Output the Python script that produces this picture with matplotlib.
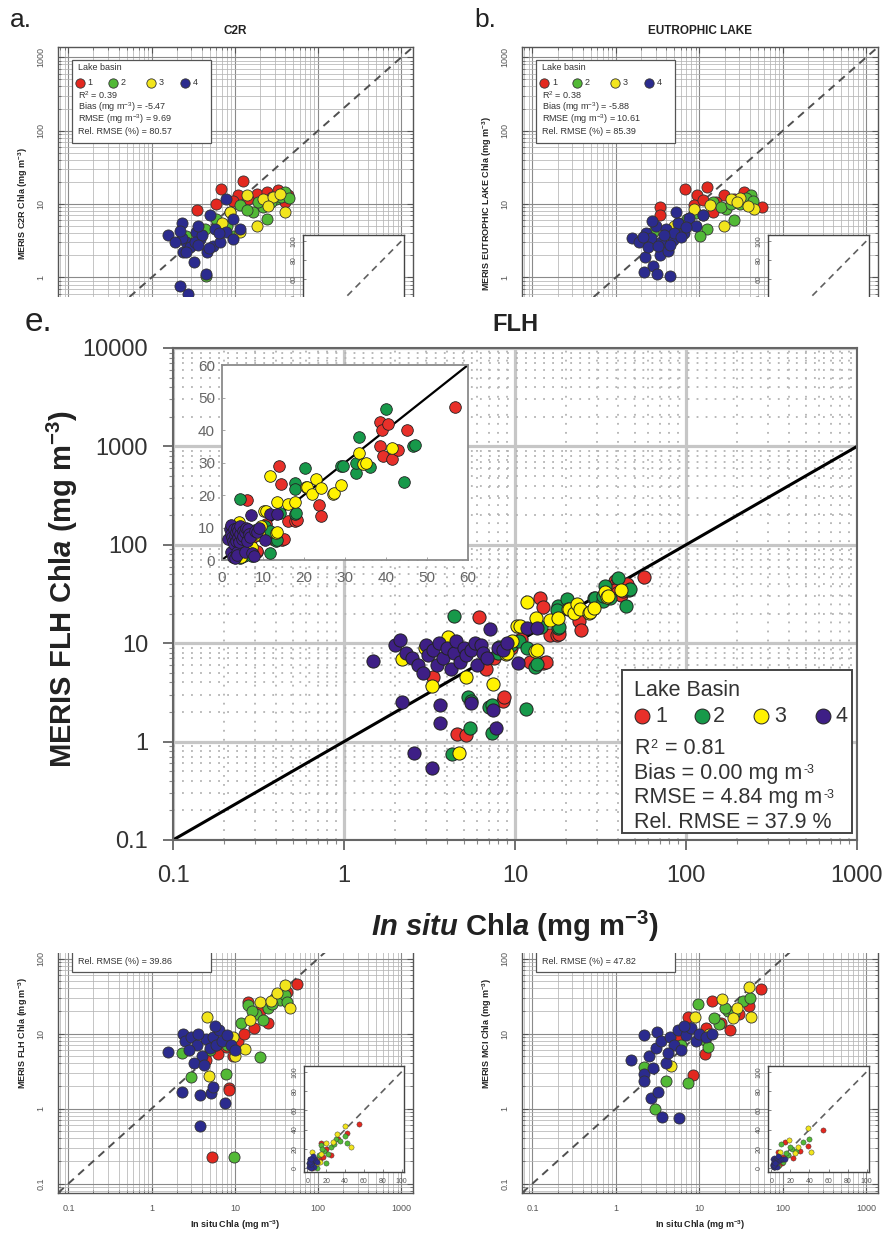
import matplotlib
matplotlib.use('Agg')
import matplotlib.pyplot as plt
from matplotlib.patches import Rectangle
from matplotlib.ticker import LogLocator, FixedLocator, NullFormatter, FixedFormatter
import numpy as np

plt.rcParams['font.family'] = ['Liberation Sans', 'DejaVu Sans']
plt.rcParams['mathtext.fontset'] = 'custom'
plt.rcParams['mathtext.rm'] = 'Liberation Sans:bold'
plt.rcParams['mathtext.it'] = 'Liberation Sans:italic:bold'
plt.rcParams['mathtext.sf'] = 'Liberation Sans'
plt.rcParams['mathtext.bf'] = 'Liberation Sans:bold'

# ---------------- data ----------------
BASINS = ['1', '2', '3', '4']
LOG_TICKS = [0.1, 1, 10, 100, 1000]
LOG_TICK_LABELS = ['0.1', '1', '10', '100', '1000']
E_YTICKS = [0.1, 1, 10, 100, 1000, 10000]
E_YTICK_LABELS = ['0.1', '1', '10', '100', '1000', '10000']
INSET_E_TICKS = [0, 10, 20, 30, 40, 50, 60]
INSET_SMALL_TICKS = [0, 20, 40, 60, 80, 100]

# panel e : FLH (in situ x, MERIS y), per lake basin
E_X1 = [3.3, 4.6, 5.2, 6.2, 6.8, 7.5, 8.5, 8.6, 9.5, 10.8, 12.2, 14.0, 14.5, 14.6, 15.1, 16.0, 17.7, 18.2, 23.6, 24.2, 38.5, 39.0, 40.5, 38.5, 39.3, 41.5, 43.0, 45.0, 56.8]
E_Y1 = [4.5, 1.2, 1.17, 18.5, 5.5, 7.0, 2.6, 2.84, 9.0, 11.0, 6.4, 28.8, 23.5, 6.3, 6.5, 12.0, 12.1, 12.3, 16.8, 13.5, 42.5, 40.0, 42.0, 35.0, 32.0, 31.0, 34.0, 40.0, 47.0]
E_X2 = [4.4, 4.3, 5.3, 5.5, 5.46, 7.0, 7.3, 7.3, 8.0, 9.5, 10.5, 11.6, 11.8, 8.1, 13.1, 13.4, 14.1, 17.8, 17.9, 17.7, 18.0, 20.2, 29.0, 29.5, 32.7, 32.7, 33.5, 36.0, 40.0, 44.5, 46.5, 47.0]
E_Y2 = [18.8, 0.75, 2.84, 2.6, 1.37, 2.25, 2.35, 1.22, 8.0, 9.5, 10.5, 2.15, 8.9, 9.1, 5.7, 6.2, 14.5, 23.7, 14.3, 21.7, 14.5, 28.3, 28.8, 29.0, 26.8, 30.0, 38.0, 28.6, 46.5, 24.0, 35.0, 35.5]
E_X3 = [2.18, 2.98, 3.27, 4.05, 4.7, 5.2, 7.4, 9.6, 8.9, 9.0, 10.3, 10.7, 11.7, 13.1, 13.3, 13.4, 16.0, 17.9, 20.5, 20.7, 22.0, 23.0, 24.1, 27.0, 27.3, 29.0, 33.4, 34.4, 35.0, 41.5]
E_Y3 = [6.9, 8.9, 3.67, 11.6, 0.77, 4.5, 3.85, 10.5, 7.8, 7.9, 15.0, 15.0, 26.0, 8.4, 18.0, 8.6, 17.2, 18.0, 22.4, 22.5, 20.4, 25.0, 22.2, 20.4, 20.6, 23.0, 33.0, 29.5, 30.0, 34.5]
E_X4 = [1.48, 2.0, 2.13, 2.18, 2.3, 2.5, 2.57, 2.7, 2.9, 3.0, 3.1, 3.27, 3.3, 3.5, 3.6, 3.64, 3.64, 3.8, 4.0, 4.2, 4.4, 4.5, 4.8, 5.0, 5.2, 5.5, 5.5, 5.8, 6.0, 6.3, 6.5, 6.9, 7.1, 7.4, 7.7, 8.0, 8.5, 9.0, 10.4, 11.8, 13.4]
E_Y4 = [6.6, 9.6, 10.8, 2.5, 8.0, 7.0, 0.77, 6.0, 5.0, 9.5, 7.5, 0.54, 8.5, 6.0, 10.0, 2.36, 1.55, 7.0, 9.0, 5.5, 8.0, 10.5, 6.5, 9.0, 7.5, 2.47, 8.5, 10.0, 6.0, 9.5, 8.0, 7.0, 13.8, 2.1, 1.37, 9.0, 8.5, 10.0, 6.3, 14.3, 14.3]

# panel a : C2R
A_X1 = [12.6, 6.9, 3.47, 6.0, 8.7, 18.2, 24.0, 33.0, 40.0, 43.0, 11.0, 14.5, 28.0, 9.5]
A_Y1 = [20.4, 16.2, 8.2, 10.1, 7.8, 13.8, 14.6, 15.4, 10.6, 13.1, 13.1, 11.8, 12.5, 11.0]
A_X2 = [40.0, 22.0, 24.0, 16.7, 11.5, 6.0, 4.4, 31.0, 9.5, 4.5, 2.6, 36.0, 27.0, 19.0, 14.0, 8.0, 45.0]
A_Y2 = [14.6, 9.1, 6.3, 7.8, 9.6, 6.3, 4.6, 11.8, 3.7, 1.05, 3.7, 12.5, 10.5, 10.5, 8.3, 5.0, 12.0]
A_X3 = [22.0, 40.0, 18.2, 8.7, 11.5, 29.0, 13.8, 35.0, 25.0, 7.0]
A_Y3 = [11.8, 7.8, 5.1, 7.8, 4.1, 12.4, 13.1, 13.5, 9.5, 5.5]
A_X4 = [1.58, 2.3, 2.4, 3.2, 4.5, 2.2, 2.75, 3.8, 5.5, 7.9, 11.5, 6.6, 5.0, 9.5, 7.9, 2.6, 3.45, 4.6, 9.5, 2.3, 2.9, 3.3, 4.0, 5.8, 6.5, 2.2, 3.6, 4.9, 1.9, 2.6, 3.6]
A_Y4 = [3.8, 5.55, 2.2, 1.6, 1.1, 0.77, 0.59, 3.35, 2.7, 4.1, 4.6, 3.0, 7.0, 6.3, 11.8, 3.0, 4.1, 2.2, 3.35, 3.5, 2.6, 3.0, 3.8, 4.6, 4.0, 4.3, 5.0, 2.5, 3.0, 2.2, 2.8]

# panel b : EUTROPHIC LAKE
B_X1 = [3.4, 3.4, 6.8, 12.3, 9.4, 19.5, 34.0, 57.0, 26.0, 8.6, 14.5, 40.0, 16.0, 11.0]
B_Y1 = [9.1, 7.0, 16.2, 17.1, 13.1, 13.1, 14.6, 9.1, 11.8, 9.6, 7.8, 12.0, 10.5, 11.5]
B_X2 = [41.0, 21.0, 26.0, 12.3, 7.1, 4.9, 14.5, 31.0, 2.8, 2.35, 10.2, 18.0, 36.0, 24.0, 9.0, 5.5, 44.0]
B_Y2 = [13.1, 8.6, 6.0, 4.6, 6.3, 4.6, 10.6, 10.1, 4.1, 3.35, 3.7, 9.0, 12.0, 10.0, 7.5, 5.5, 11.0]
B_X3 = [45.0, 19.5, 8.6, 31.0, 13.5, 23.6, 4.9, 38.0, 28.0, 11.0]
B_Y3 = [8.6, 5.1, 8.6, 12.1, 9.6, 11.8, 5.1, 9.5, 10.5, 7.0]
B_X4 = [1.56, 2.25, 2.8, 3.1, 2.2, 4.5, 3.4, 1.9, 2.3, 2.6, 3.0, 3.5, 4.0, 4.8, 5.5, 6.5, 7.5, 9.0, 11.2, 2.4, 3.2, 4.2, 5.0, 6.0, 2.7, 3.8, 5.2, 7.0, 2.1, 4.4]
B_Y4 = [3.4, 1.9, 1.45, 1.1, 1.17, 1.05, 2.0, 3.0, 4.0, 3.5, 5.0, 3.0, 4.5, 3.2, 5.5, 4.0, 6.5, 5.0, 7.0, 2.6, 2.7, 2.3, 4.0, 3.6, 5.8, 3.8, 7.8, 4.8, 3.6, 2.8]

# panel c : FLH (small)
C_X1 = [55.0, 14.5, 7.9, 6.3, 8.5, 8.6, 5.3, 11.0, 13.0, 20.0, 25.0, 33.0, 17.0, 4.5, 9.5, 42.0]
C_Y1 = [45.5, 26.5, 6.6, 5.4, 1.9, 1.75, 0.227, 8.0, 10.0, 20.0, 14.0, 30.0, 12.0, 4.5, 5.0, 36.0]
C_X2 = [14.5, 20.0, 7.9, 3.0, 9.8, 30.0, 35.0, 40.0, 25.0, 18.0, 12.0, 8.0, 5.0, 2.3, 42.0, 28.0, 22.0, 16.0]
C_Y2 = [24.0, 4.9, 2.9, 2.65, 0.227, 30.0, 28.0, 33.0, 22.0, 18.0, 14.0, 7.0, 6.0, 5.5, 26.0, 25.0, 15.0, 20.0]
C_X3 = [40.0, 46.0, 20.0, 4.57, 9.5, 13.2, 4.9, 27.0, 32.0, 15.0, 10.0, 6.0]
C_Y3 = [44.0, 22.0, 26.5, 16.7, 9.0, 6.3, 2.7, 27.0, 35.0, 15.0, 5.0, 7.0]
C_X4 = [1.58, 2.35, 2.3, 3.8, 5.2, 5.5, 7.6, 3.8, 2.5, 3.0, 3.5, 4.0, 4.5, 5.0, 5.5, 6.0, 6.5, 7.0, 8.0, 9.0, 3.2, 4.2, 2.8, 5.8, 10.0, 3.6]
C_Y4 = [5.6, 10.0, 1.67, 1.5, 1.6, 1.95, 1.19, 0.58, 8.0, 9.0, 7.0, 5.0, 8.5, 6.5, 9.0, 7.0, 11.0, 8.0, 9.5, 7.0, 4.0, 3.8, 6.0, 12.5, 6.0, 10.0]

# panel d : MCI
D_X1 = [54.0, 14.0, 39.0, 23.0, 7.3, 5.6, 11.7, 8.4, 12.0, 30.0, 18.0]
D_Y1 = [39.8, 27.5, 23.0, 11.0, 16.7, 9.0, 5.4, 2.8, 12.0, 18.0, 14.0]
D_X2 = [9.7, 22.0, 33.0, 17.0, 11.7, 12.7, 7.3, 4.0, 2.9, 2.2, 40.0, 26.0, 15.0, 20.0, 6.0]
D_Y2 = [25.0, 20.0, 27.5, 13.5, 8.3, 6.6, 2.2, 2.3, 1.0, 3.6, 30.0, 18.0, 16.0, 22.0, 7.0]
D_X3 = [39.0, 18.5, 42.0, 4.6, 8.8, 28.0, 25.0, 13.0]
D_Y3 = [42.0, 29.0, 16.7, 3.65, 16.7, 22.0, 16.0, 10.0]
D_X4 = [1.5, 2.2, 2.2, 2.2, 2.6, 3.2, 3.6, 5.7, 3.1, 2.5, 3.0, 3.5, 4.0, 4.5, 5.0, 5.5, 6.0, 7.0, 8.0, 9.0, 10.0, 12.0, 14.0, 2.8, 4.2, 6.5]
D_Y4 = [4.5, 9.5, 2.9, 2.3, 1.4, 1.65, 0.77, 0.74, 10.5, 5.0, 6.5, 8.0, 4.0, 9.0, 7.0, 11.0, 6.0, 9.5, 12.0, 8.0, 10.0, 9.0, 10.0, 3.5, 5.5, 12.5]

A_STATS = ['R$^{\\mathsf{2}}$ = 0.39', 'Bias (mg m$^{\\mathsf{-3}}$) = -5.47',
           'RMSE (mg m$^{\\mathsf{-3}}$) = 9.69', 'Rel. RMSE (%) = 80.57']
B_STATS = ['R$^{\\mathsf{2}}$ = 0.38', 'Bias (mg m$^{\\mathsf{-3}}$) = -5.88',
           'RMSE (mg m$^{\\mathsf{-3}}$) = 10.61', 'Rel. RMSE (%) = 85.39']
C_STATS = ['Rel. RMSE (%) = 39.86']
D_STATS = ['Rel. RMSE (%) = 47.82']
E_STAT_MAIN = ['R', 'Bias = 0.00 mg m', 'RMSE = 4.84 mg m', 'Rel. RMSE = 37.9 %']
E_STAT_SUP = ['2', '-3', '-3', '']
E_STAT_TAIL = [' = 0.81', '', '', '']

SMALL_COLORS = ['#e3281f', '#52b936', '#f2e51c', '#2b2b8e']
E_COLORS = ['#e8302a', '#17994a', '#fff200', '#3e1f86']

# ---------------- figure ----------------
W, H = 885, 1239
COVER_TOP, COVER_BOTTOM = 297, 953
fig = plt.figure(figsize=(W / 100, H / 100), dpi=100)


def add_ax(l, t, r, b, **kw):
    return fig.add_axes([l / W, 1 - b / H, (r - l) / W, (b - t) / H], **kw)


def small_panel(box, ibox, xs, ys, title, ylabel, stats, upper):
    ax = add_ax(*box, zorder=0)
    ax.set_xscale('log')
    ax.set_yscale('log')
    lo, hi = 0.075, 1380
    ax.set_xlim(lo, hi)
    ax.set_ylim(lo, hi)
    ax.xaxis.set_major_locator(FixedLocator(LOG_TICKS))
    ax.xaxis.set_major_formatter(FixedFormatter(LOG_TICK_LABELS))
    ax.yaxis.set_major_locator(FixedLocator(LOG_TICKS))
    # labels that fall under panel e are not shown in the reference
    ylabs = LOG_TICK_LABELS if upper else LOG_TICK_LABELS[:-1] + ['']
    ax.yaxis.set_major_formatter(FixedFormatter(ylabs))
    for axis in (ax.xaxis, ax.yaxis):
        axis.set_minor_locator(LogLocator(base=10, subs=np.arange(2, 10), numticks=30))
        axis.set_minor_formatter(NullFormatter())
    ax.grid(True, which='major', color='#8a8a8a', lw=0.8)
    ax.grid(True, which='minor', color='#b5b5b5', lw=0.55)
    ax.set_axisbelow(True)
    ax.tick_params(which='both', direction='in', top=True, right=True, color='#555',
                   labelsize=6.5, labelcolor='#555')
    ax.tick_params(which='major', length=4, width=0.8)
    ax.tick_params(which='minor', length=2, width=0.5)
    ax.tick_params(axis='x', pad=8, labelbottom=not upper)
    ax.tick_params(axis='y', labelrotation=90, pad=9)
    for lab in ax.get_yticklabels():
        lab.set_va('center')
    for s in ax.spines.values():
        s.set_color('#555')
        s.set_linewidth(1.0)
    ax.plot([lo, hi], [lo, hi], color='#505050', lw=1.4, dashes=(4, 3), zorder=2)
    for i in range(4):
        ax.scatter(xs[i], ys[i], s=64, c=SMALL_COLORS[i], edgecolors='#333',
                   linewidths=0.6, zorder=3)
    if title:
        ax.set_title(title, fontsize=8.5, fontweight='bold', pad=9, color='#222')
    if not upper:
        ax.set_xlabel('In situ Chla (mg m$^{\\mathrm{-3}}$)', fontsize=6.5,
                      fontweight='bold', labelpad=4, color='#222')
    ax.set_ylabel(ylabel, fontsize=6.5, fontweight='bold', labelpad=5, color='#222')
    # legend box
    ax.add_patch(Rectangle((0.039, 1 - 0.308), 0.392, 0.266, transform=ax.transAxes,
                           facecolor='white', edgecolor='#555', lw=0.9, zorder=5))
    tx = 0.056
    if upper:
        ax.text(tx, 1 - 0.067, 'Lake basin', transform=ax.transAxes, fontsize=6.5,
                va='center', color='#333', zorder=6)
        for i, mx in enumerate([0.062, 0.155, 0.262, 0.358]):
            ax.scatter([mx], [1 - 0.115], s=45, c=SMALL_COLORS[i], edgecolors='#333',
                       linewidths=0.6, transform=ax.transAxes, zorder=6, clip_on=False)
            ax.text(mx + 0.022, 1 - 0.115, BASINS[i], transform=ax.transAxes,
                    fontsize=6.5, va='center', color='#333', zorder=6)
        ys_txt = [0.153, 0.192, 0.230, 0.270]
        for yy, st in zip(ys_txt, stats):
            ax.text(tx, 1 - yy, st, transform=ax.transAxes, fontsize=6.5,
                    va='center', color='#333', zorder=6)
    else:
        ax.text(tx, 1 - 0.278, stats[-1], transform=ax.transAxes, fontsize=6.5,
                va='center', color='#333', zorder=6)
    # linear inset
    ia = add_ax(*ibox, zorder=0.5)
    ia.set_xlim(-3.5, 102.5)
    ia.set_ylim(-4, 106)
    ia.set_facecolor('white')
    ia.plot([0, 110], [0, 110], color='#606060', lw=1.2, dashes=(4, 3), zorder=2)
    for i in range(4):
        ia.scatter(xs[i], ys[i], s=14, c=SMALL_COLORS[i], edgecolors='#333',
                   linewidths=0.3, zorder=3)
    ia.set_xticks(INSET_SMALL_TICKS)
    ia.set_yticks(INSET_SMALL_TICKS)
    ia.tick_params(labelsize=5, labelcolor='#555', length=2, width=0.5, color='#555',
                   direction='in', pad=4)
    ia.tick_params(axis='y', labelrotation=90)
    for lab in ia.get_yticklabels():
        lab.set_va('center')
    for s in ia.spines.values():
        s.set_color('#444')
        s.set_linewidth(1.0)
    return ax


small_panel((58, 47, 413, 360), (303, 235, 404, 341),
            [A_X1, A_X2, A_X3, A_X4], [A_Y1, A_Y2, A_Y3, A_Y4],
            'C2R', 'MERIS C2R Chla (mg m$^{\\mathrm{-3}}$)', A_STATS, True)
small_panel((522, 47, 878, 360), (768, 235, 869, 341),
            [B_X1, B_X2, B_X3, B_X4], [B_Y1, B_Y2, B_Y3, B_Y4],
            'EUTROPHIC LAKE', 'MERIS EUTROPHIC LAKE Chla (mg m$^{\\mathrm{-3}}$)', B_STATS, True)
small_panel((58, 873, 413, 1193), (304, 1066, 404, 1172),
            [C_X1, C_X2, C_X3, C_X4], [C_Y1, C_Y2, C_Y3, C_Y4],
            '', 'MERIS FLH Chla (mg m$^{\\mathrm{-3}}$)', C_STATS, False)
small_panel((522, 873, 878, 1193), (768, 1066, 869, 1172),
            [D_X1, D_X2, D_X3, D_X4], [D_Y1, D_Y2, D_Y3, D_Y4],
            '', 'MERIS MCI Chla (mg m$^{\\mathrm{-3}}$)', D_STATS, False)

fig.text(10 / W, 1 - 20 / H, 'a.', fontsize=19, va='center', ha='left', color='#222')
fig.text(474 / W, 1 - 20 / H, 'b.', fontsize=19, va='center', ha='left', color='#222')

# white cover for the enlarged panel
fig.add_artist(Rectangle((0, 1 - COVER_BOTTOM / H), 1, (COVER_BOTTOM - COVER_TOP) / H,
                         transform=fig.transFigure, facecolor='white', edgecolor='none',
                         zorder=1))

# ---------------- panel e ----------------
E_BOX = (173, 348, 857, 840)
ax = add_ax(*E_BOX, zorder=2)
ax.set_xscale('log')
ax.set_yscale('log')
ax.set_xlim(0.1, 1000)
ax.set_ylim(0.1, 10000)
ax.xaxis.set_major_locator(FixedLocator(LOG_TICKS))
ax.xaxis.set_major_formatter(FixedFormatter(LOG_TICK_LABELS))
ax.yaxis.set_major_locator(FixedLocator(E_YTICKS))
ax.yaxis.set_major_formatter(FixedFormatter(E_YTICK_LABELS))
for axis in (ax.xaxis, ax.yaxis):
    axis.set_minor_locator(LogLocator(base=10, subs=np.arange(2, 10), numticks=30))
    axis.set_minor_formatter(NullFormatter())
ax.grid(True, which='major', color='#c6c6c6', lw=2.3)
ax.grid(True, which='minor', color='#b3b3b3', lw=1.3, linestyle=(0, (1, 4)))
ax.set_axisbelow(True)
ax.tick_params(which='major', direction='out', length=7, width=1.3, color='#666',
               labelsize=17, labelcolor='#333')
ax.tick_params(axis='x', which='major', pad=11)
ax.tick_params(axis='y', which='major', pad=11)
ax.tick_params(which='minor', direction='out', length=3, width=0.8, color='#888')
for s in ax.spines.values():
    s.set_color('#666')
    s.set_linewidth(1.5)
ax.plot([0.1, 1000], [0.1, 1000], color='black', lw=2.2, zorder=2)
for xs, ys, c in zip([E_X1, E_X2, E_X3, E_X4], [E_Y1, E_Y2, E_Y3, E_Y4], E_COLORS):
    ax.scatter(xs, ys, s=90, c=c, edgecolors='#222', linewidths=0.7, zorder=3)
ax.set_title('FLH', fontsize=17, fontweight='bold', pad=12, color='#222')
ax.set_xlabel('$\\mathit{In\\ situ}$ Chl$\\mathit{a}$ (mg m$^{\\mathrm{-3}}$)',
              fontsize=21, fontweight='bold', color='#222')
ax.xaxis.set_label_coords(0.5, -(926 - 840) / 492)
ax.xaxis.label.set_va('center')
ax.set_ylabel('MERIS FLH Chl$\\mathit{a}$ (mg m$^{\\mathrm{-3}}$)',
              fontsize=21, fontweight='bold', color='#222')
ax.yaxis.set_label_coords(-(173 - 62) / 684, (840 - 589) / 492)
ax.yaxis.label.set_va('center')


def e_frac(px, py):
    l, t, r, b = E_BOX
    return (px - l) / (r - l), (b - py) / (b - t)


x0, y0 = e_frac(622, 833)
x1, y1 = e_frac(852, 670)
ax.add_patch(Rectangle((x0, y0), x1 - x0, y1 - y0, transform=ax.transAxes,
                       facecolor='white', edgecolor='#444', lw=1.4, zorder=5))
ax.text(*e_frac(634, 690), 'Lake Basin', transform=ax.transAxes, fontsize=15.5,
        va='center', ha='left', color='#333', zorder=6)
for i, (mx, nx) in enumerate([(642, 655), (702, 713), (761, 774), (823, 836)]):
    ax.scatter(*[[v] for v in e_frac(mx, 716)], s=115, c=E_COLORS[i], edgecolors='#222',
               linewidths=0.7, transform=ax.transAxes, zorder=6, clip_on=False)
    ax.text(*e_frac(nx, 716), BASINS[i], transform=ax.transAxes, fontsize=15.5,
            va='center', ha='left', color='#333', zorder=6)
for py, main, sup, tail in zip([748, 773, 798, 822], E_STAT_MAIN, E_STAT_SUP, E_STAT_TAIL):
    t = ax.text(*e_frac(634, py), main, transform=ax.transAxes, fontsize=15.5,
                va='center', ha='left', color='#333', zorder=6)
    if sup:
        ax.annotate(sup, xy=(1, 0.66), xycoords=t, xytext=(0.8, 0),
                    textcoords='offset points', fontsize=9, va='center', ha='left',
                    color='#333', zorder=6)
    if tail:
        ax.annotate(tail, xy=(1, 0.5), xycoords=t, xytext=(6.5, 0),
                    textcoords='offset points', fontsize=15.5, va='center', ha='left',
                    color='#333', zorder=6)

# inset of panel e (linear)
ie = add_ax(222, 365, 468, 560, zorder=3)
ie.set_xlim(0, 60)
ie.set_ylim(0, 60)
ie.set_facecolor('white')
ie.plot([0, 60], [0, 60], color='black', lw=1.6, zorder=2)
for xs, ys, c in zip([E_X1, E_X2, E_X3, E_X4], [E_Y1, E_Y2, E_Y3, E_Y4], E_COLORS):
    ie.scatter(xs, ys, s=70, c=c, edgecolors='#222', linewidths=0.6, zorder=3, clip_on=False)
ie.set_xticks(INSET_E_TICKS)
ie.set_yticks(INSET_E_TICKS)
ie.tick_params(labelsize=11, labelcolor='#666', length=2, width=0.6, color='#999',
               direction='in')
ie.tick_params(axis='x', pad=8)
ie.tick_params(axis='y', pad=5)
for s in ie.spines.values():
    s.set_color('#8a8a8a')
    s.set_linewidth(1.3)

fig.text(25 / W, 1 - 322 / H, 'e.', fontsize=24, va='center', ha='left', color='#222',
         zorder=4)

fig.savefig('out.png', dpi=100, facecolor='white')
